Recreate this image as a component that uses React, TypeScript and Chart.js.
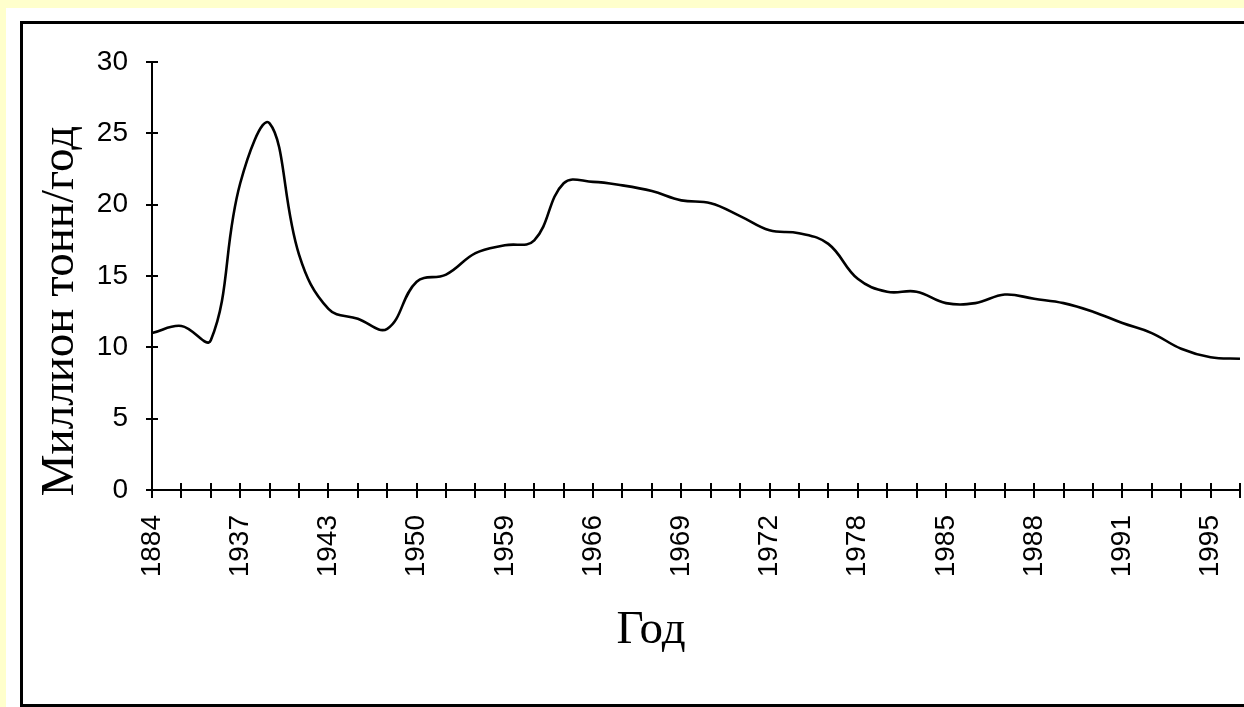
import React, { useEffect, useRef } from "react";
import { Chart, registerables } from "chart.js";

Chart.register(...registerables);

// Category labels (only every third category is labelled in the source picture)
const yearLabels = [
  "1884", "", "", "1937", "", "", "1943", "", "", "1950", "", "", "1959", "", "",
  "1966", "", "", "1969", "", "", "1972", "", "", "1978", "", "", "1985", "", "",
  "1988", "", "", "1991", "", "", "1995", "",
];

// Production, million tonnes per year
const production = [
  11.0, 11.5, 10.5, 21.5, 25.7, 16.5, 12.7, 12.0, 11.3, 14.6, 15.1, 16.6, 17.15,
  17.5, 21.5, 21.6, 21.35, 20.95, 20.3, 20.1, 19.2, 18.2, 18.0, 17.25, 14.8, 13.9,
  13.9, 13.1, 13.1, 13.7, 13.4, 13.1, 12.5, 11.7, 11.0, 9.9, 9.3, 9.2,
];

const yTickValues = [0, 5, 10, 15, 20, 25, 30];
const yTitle = "Миллион тонн/год";
const xTitle = "Год";

const TICK_FONT = "Liberation Sans";
const TITLE_FONT = "'Liberation Serif', 'DejaVu Serif', serif";

const crossTicksAndTitles = {
  id: "crossTicksAndTitles",
  afterDraw(chart: any) {
    const { ctx, chartArea, scales } = chart;
    const x = scales.x;
    const y = scales.y;
    ctx.save();
    ctx.strokeStyle = "#000";
    ctx.lineWidth = 2;
    ctx.beginPath();
    x.ticks.forEach((_: any, i: number) => {
      const px = Math.round(x.getPixelForTick(i));
      ctx.moveTo(px, chartArea.bottom - 7);
      ctx.lineTo(px, chartArea.bottom + 8);
    });
    y.ticks.forEach((_: any, i: number) => {
      const py = Math.round(y.getPixelForTick(i));
      ctx.moveTo(chartArea.left - 6, py);
      ctx.lineTo(chartArea.left + 6, py);
    });
    ctx.stroke();

    // axis titles
    const opts = chart.options.plugins.crossTicksAndTitles || {};
    ctx.fillStyle = "#000";
    ctx.font = `47px ${TITLE_FONT}`;
    ctx.textAlign = "center";
    ctx.textBaseline = "alphabetic";
    ctx.fillText(opts.xTitle, chartArea.left + 499, chartArea.bottom + 153);
    ctx.save();
    ctx.translate(chartArea.left - 79, chartArea.top + 249);
    ctx.rotate(-Math.PI / 2);
    ctx.fillText(opts.yTitle, 0, 0);
    ctx.restore();
    ctx.restore();
  },
};

export default function App() {
  const canvasRef = useRef<HTMLCanvasElement | null>(null);

  useEffect(() => {
    const canvas = canvasRef.current;
    if (!canvas) return;
    const chart = new Chart(canvas, {
      type: "line",
      data: {
        labels: yearLabels,
        datasets: [
          {
            label: yTitle,
            data: production,
            borderColor: "#000",
            borderWidth: 2.6,
            pointRadius: 0,
            tension: 0.4,
            fill: false,
          },
        ],
      },
      options: {
        responsive: false,
        animation: false,
        layout: { padding: { top: 62, right: 4, left: 0, bottom: 0 } },
        plugins: {
          legend: { display: false },
          tooltip: { enabled: false },
          crossTicksAndTitles: { xTitle, yTitle },
        } as any,
        scales: {
          x: {
            type: "category",
            offset: false,
            grid: { display: false, drawTicks: false },
            border: { display: true, color: "#000", width: 2 },
            ticks: {
              autoSkip: false,
              maxRotation: 90,
              minRotation: 90,
              padding: 25,
              color: "#000",
              font: { family: TICK_FONT, size: 28 },
            },
            afterFit: (s: any) => {
              s.height = 217;
              s.paddingLeft = 0;
              s.paddingRight = 0;
            },
          },
          y: {
            min: 0,
            max: 30,
            grid: { display: false, drawTicks: false },
            border: { display: true, color: "#000", width: 2 },
            ticks: {
              padding: 24,
              color: "#000",
              font: { family: TICK_FONT, size: 28 },
            },
            afterBuildTicks: (s: any) => {
              s.ticks = yTickValues.map((v) => ({ value: v }));
            },
            afterFit: (s: any) => {
              s.width = 152;
              s.paddingTop = 0;
              s.paddingBottom = 0;
            },
          },
        },
      },
      plugins: [crossTicksAndTitles],
    });
    return () => chart.destroy();
  }, []);

  return (
    <div style={{ position: "fixed", left: 0, top: 0, width: 1244, height: 707, background: "#ffffcc", overflow: "hidden" }}>
      <div style={{ position: "absolute", left: 6, top: 8, right: 0, bottom: 0, background: "#fff" }} />
      <div
        style={{
          position: "absolute",
          left: 20,
          top: 21,
          width: 1300,
          height: 686,
          boxSizing: "border-box",
          border: "3px solid #000",
        }}
      />
      <canvas ref={canvasRef} width={1244} height={707} style={{ position: "absolute", left: 0, top: 0, width: 1244, height: 707 }} />
    </div>
  );
}
